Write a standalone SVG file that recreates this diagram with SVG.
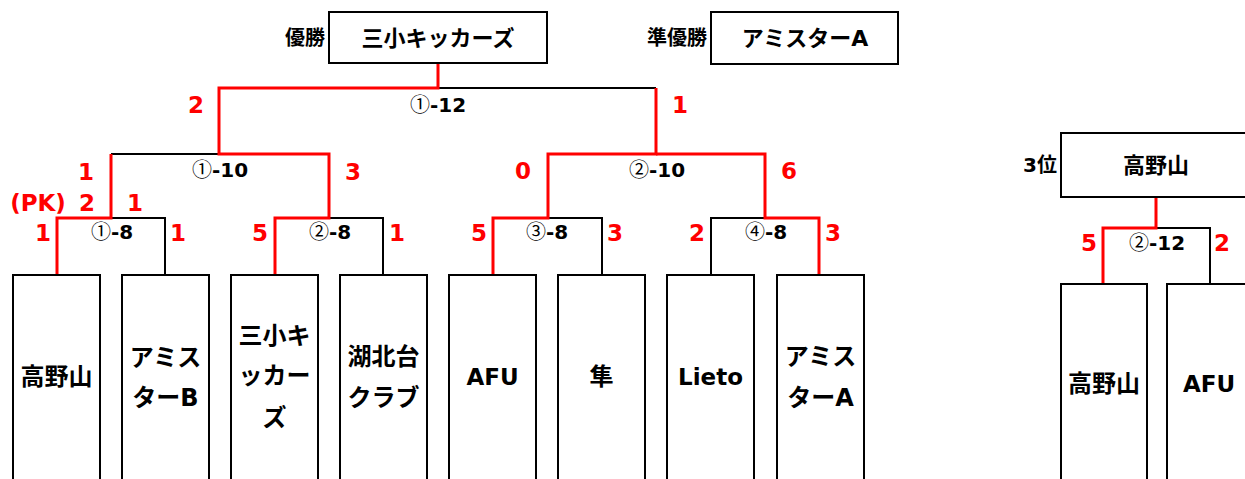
<svg xmlns="http://www.w3.org/2000/svg" width="1245" height="479" viewBox="0 0 1245 479">
<style>
text{font-family:"DejaVu Sans","Noto Sans CJK JP",sans-serif;font-weight:bold;}
.box{fill:#fff;stroke:#000;stroke-width:2;}
.blk{fill:none;stroke:#000;stroke-width:2;}
.red{fill:none;stroke:#ff0000;stroke-width:3;}
.sc{fill:#ff0000;font-size:23px;text-anchor:middle;}
.mt{fill:#000;font-size:20px;text-anchor:middle;}
.c{font-family:"Noto Sans CJK JP",sans-serif;font-weight:normal;}
.tm{fill:#000;font-size:24px;text-anchor:middle;}
.tl{fill:#000;font-size:23px;text-anchor:middle;}
.top{fill:#000;font-size:22px;text-anchor:middle;}
.lbl{fill:#000;font-size:20px;text-anchor:end;}
</style>
<rect width="1245" height="479" fill="#fff"/>
<g id="connectors">
<path class="blk" d="M438,88 H656"/>
<path class="blk" d="M111,154 H219"/>
<path class="blk" d="M111,218 H165 V275"/>
<path class="blk" d="M329,218 H383 V275"/>
<path class="blk" d="M548,154 H656"/>
<path class="blk" d="M548,218 H602 V275"/>
<path class="blk" d="M711,275 V218 H765"/>
<path class="blk" d="M1156,228 H1210 V284"/>
<path class="red" d="M438,63 V88 H219 V154 H329 V218 H275 V275"/>
<path class="red" d="M111,154 V218 H57 V275"/>
<path class="red" d="M656,88 V154 H548 V218 H493 V275"/>
<path class="red" d="M656,154 H765 V218 H819 V275"/>
<path class="red" d="M1156,197 V228 H1103 V284"/>
</g>
<g id="winner">
<rect class="box" x="329" y="12" width="218" height="51"/>
<text class="top" x="438" y="46">三小キッカーズ</text>
<text class="lbl" x="325" y="45">優勝</text>
</g>
<g id="runnerup">
<rect class="box" x="711" y="12" width="187" height="52"/>
<text class="top" x="805" y="46">アミスターA</text>
<text class="lbl" x="707" y="45">準優勝</text>
</g>
<g id="third">
<rect class="box" x="1061" y="133" width="200" height="64"/>
<text class="top" x="1156" y="173">高野山</text>
<text class="lbl" x="1057" y="172">3位</text>
</g>
<g id="scores">
<text class="sc" x="196" y="113">2</text>
<text class="sc" x="680" y="113">1</text>
<text class="mt" x="438" y="112"><tspan class="c">①</tspan>-12</text>
<text class="sc" x="86" y="180">1</text>
<text class="mt" x="220" y="177"><tspan class="c">①</tspan>-10</text>
<text class="sc" x="353" y="180">3</text>
<text class="sc" x="38" y="211">(PK)</text>
<text class="sc" x="87" y="211">2</text>
<text class="sc" x="135" y="211">1</text>
<text class="sc" x="43" y="241">1</text>
<text class="mt" x="112" y="239"><tspan class="c">①</tspan>-8</text>
<text class="sc" x="178" y="241">1</text>
<text class="sc" x="260" y="241">5</text>
<text class="mt" x="330" y="239"><tspan class="c">②</tspan>-8</text>
<text class="sc" x="397" y="241">1</text>
<text class="sc" x="523" y="179">0</text>
<text class="mt" x="657" y="177"><tspan class="c">②</tspan>-10</text>
<text class="sc" x="789" y="179">6</text>
<text class="sc" x="479" y="241">5</text>
<text class="mt" x="547" y="239"><tspan class="c">③</tspan>-8</text>
<text class="sc" x="615" y="241">3</text>
<text class="sc" x="697" y="241">2</text>
<text class="mt" x="766" y="239"><tspan class="c">④</tspan>-8</text>
<text class="sc" x="833" y="241">3</text>
<text class="sc" x="1089" y="251">5</text>
<text class="mt" x="1157" y="250"><tspan class="c">②</tspan>-12</text>
<text class="sc" x="1222" y="251">2</text>
</g>
<g id="team1"><rect class="box" x="13" y="275" width="87" height="215"/><text class="tm" x="56.5" y="385">高野山</text></g>
<g id="team2"><rect class="box" x="122" y="275" width="87" height="215"/><text class="tm" x="165.5" y="366">アミス</text><text class="tm" x="165.5" y="406">ターB</text></g>
<g id="team3"><rect class="box" x="231" y="275" width="87" height="215"/><text class="tm" x="274.5" y="344">三小キ</text><text class="tm" x="274.5" y="384">ッカー</text><text class="tm" x="274.5" y="426">ズ</text></g>
<g id="team4"><rect class="box" x="340" y="275" width="87" height="215"/><text class="tm" x="383.5" y="365">湖北台</text><text class="tm" x="383.5" y="406">クラブ</text></g>
<g id="team5"><rect class="box" x="449" y="275" width="87" height="215"/><text class="tl" x="492.5" y="385">AFU</text></g>
<g id="team6"><rect class="box" x="558" y="275" width="87" height="215"/><text class="tm" x="601.5" y="385">隼</text></g>
<g id="team7"><rect class="box" x="667" y="275" width="87" height="215"/><text class="tl" x="710.5" y="385">Lieto</text></g>
<g id="team8"><rect class="box" x="777" y="275" width="87" height="215"/><text class="tm" x="820.5" y="365">アミス</text><text class="tm" x="820.5" y="406">ターA</text></g>
<g id="team9"><rect class="box" x="1061" y="284" width="86" height="210"/><text class="tm" x="1104" y="392">高野山</text></g>
<g id="team10"><rect class="box" x="1167" y="284" width="100" height="210"/><text class="tl" x="1209" y="392">AFU</text></g>
</svg>
